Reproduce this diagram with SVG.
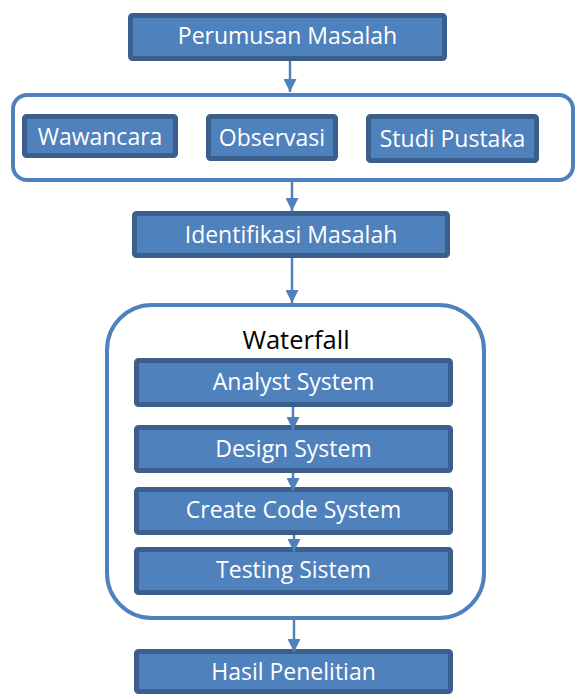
<svg xmlns="http://www.w3.org/2000/svg" width="577" height="695" viewBox="0 0 577 695">
<style>
.box{fill:#4F81BD;stroke:#3A5F8C;stroke-width:5}
.grp{fill:#FFFFFF;stroke:#4F81BD;stroke-width:4}
.lbl{font-family:"Open Sans","Liberation Sans",sans-serif;font-size:23px;fill:#FFFFFF;text-anchor:middle}
.ttl{font-family:"Open Sans","Liberation Sans",sans-serif;font-size:25.5px;fill:#000000;text-anchor:middle}
.con{stroke:#4F81BD;stroke-width:2.5;fill:none;marker-end:url(#ah)}
</style>
<defs>
<marker id="ah" viewBox="0 0 10 10" refX="10" refY="5" markerWidth="14" markerHeight="13" markerUnits="userSpaceOnUse" orient="auto">
<path d="M0,0 L10,5 L0,10 Z" fill="#4F81BD"/>
</marker>
</defs>
<g id="perumusan"><rect class="box" x="130.5" y="15.5" width="314" height="43" rx="2"/><text class="lbl" x="287.5" y="44">Perumusan Masalah</text></g>
<g id="pengumpulan"><rect class="grp" x="13" y="95" width="560" height="85" rx="14"/></g>
<g id="wawancara"><rect class="box" x="24.5" y="116.5" width="151" height="39" rx="2"/><text class="lbl" x="100" y="145">Wawancara</text></g>
<g id="observasi"><rect class="box" x="208.5" y="116.5" width="127" height="42" rx="2"/><text class="lbl" x="272" y="146">Observasi</text></g>
<g id="studi"><rect class="box" x="368.5" y="116.5" width="168" height="44" rx="2"/><text class="lbl" x="452.5" y="147">Studi Pustaka</text></g>
<g id="identifikasi"><rect class="box" x="134.5" y="213.5" width="313" height="42" rx="2"/><text class="lbl" x="291" y="243">Identifikasi Masalah</text></g>
<g id="waterfall"><rect class="grp" x="107" y="305" width="377" height="313" rx="45"/><text class="ttl" x="296" y="349">Waterfall</text></g>
<g id="analyst"><rect class="box" x="136.5" y="360.5" width="314" height="44" rx="2"/><text class="lbl" x="293.5" y="390">Analyst System</text></g>
<g id="design"><rect class="box" x="136.5" y="427.5" width="314" height="43" rx="2"/><text class="lbl" x="293.5" y="457">Design System</text></g>
<g id="create"><rect class="box" x="136.5" y="489.5" width="314" height="43" rx="2"/><text class="lbl" x="293.5" y="518">Create Code System</text></g>
<g id="testing"><rect class="box" x="136.5" y="549.5" width="314" height="43" rx="2"/><text class="lbl" x="293.5" y="578">Testing Sistem</text></g>
<g id="hasil"><rect class="box" x="136.5" y="651.5" width="314" height="40" rx="2"/><text class="lbl" x="293.5" y="680">Hasil Penelitian</text></g>
<g id="connectors">
<path class="con" d="M290,61 L290,92"/>
<path class="con" d="M292,182 L292,211"/>
<path class="con" d="M292,258 L292,303"/>
<path class="con" d="M293,407 L293,430"/>
<path class="con" d="M293,473 L293,491"/>
<path class="con" d="M294,535 L294,552"/>
<path class="con" d="M294,620 L294,652"/>
</g>
</svg>
